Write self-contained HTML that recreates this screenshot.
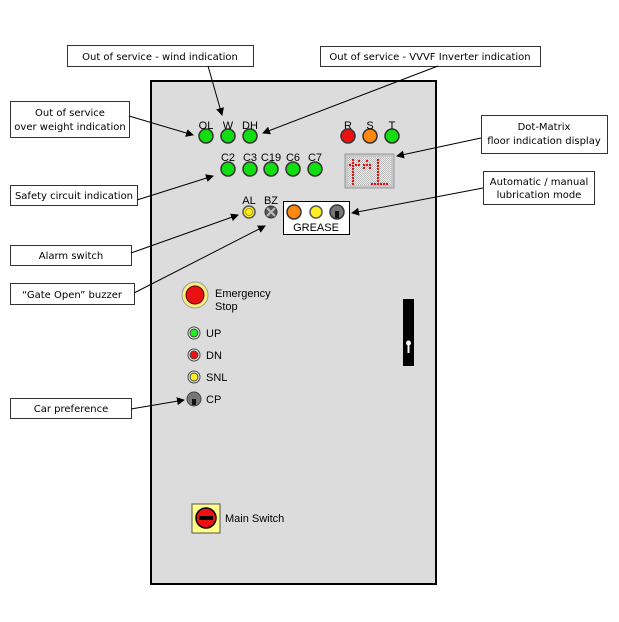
<!DOCTYPE html>
<html><head><meta charset="utf-8"><style>
html,body{margin:0;padding:0;background:#fff}
svg{display:block}
.lb{font-family:"DejaVu Sans","Liberation Sans",sans-serif;font-size:10px;fill:#000}
.pl{font-family:"Liberation Sans",sans-serif;font-size:11px;fill:#000}
</style></head><body>
<svg width="619" height="622" viewBox="0 0 619 622" xmlns="http://www.w3.org/2000/svg">
<defs>
<marker id="a" markerWidth="8" markerHeight="8" refX="7" refY="4" orient="auto" markerUnits="userSpaceOnUse">
<path d="M0,0 L8,4 L0,8 z" fill="#000"/></marker>
<pattern id="g" width="2" height="2" patternUnits="userSpaceOnUse"><rect width="2" height="2" fill="#eee"/><rect width="1" height="1" fill="#bbb"/><rect x="1" y="1" width="1" height="1" fill="#bbb"/></pattern>
</defs>
<rect x="151" y="81" width="285" height="503" fill="#dcdcdc" stroke="#000" stroke-width="2"/>

<!-- label boxes -->
<g fill="#fff" stroke="#333" stroke-width="1">
<rect x="67.5" y="45.5" width="186" height="21"/>
<rect x="320.5" y="46.5" width="220" height="20"/>
<rect x="10.5" y="101.5" width="119" height="36"/>
<rect x="481.5" y="115.5" width="126" height="38"/>
<rect x="483.5" y="171.5" width="111" height="33"/>
<rect x="10.5" y="185.5" width="127" height="20"/>
<rect x="10.5" y="245.5" width="121" height="20"/>
<rect x="10.5" y="283.5" width="124" height="21"/>
<rect x="10.5" y="398.5" width="121" height="20"/>
</g>
<g class="lb" text-anchor="middle">
<text x="160" y="60">Out of service  - wind indication</text>
<text x="430" y="60">Out of service  - VVVF  Inverter indication</text>
<text x="70" y="116">Out of service</text>
<text x="70" y="130">over weight indication</text>
<text x="544" y="130">Dot-Matrix</text>
<text x="544" y="144">floor indication display</text>
<text x="539" y="185">Automatic / manual</text>
<text x="539" y="198">lubrication mode</text>
<text x="74" y="199">Safety circuit indication</text>
<text x="71" y="259">Alarm switch</text>
<text x="72" y="298">“Gate Open” buzzer</text>
<text x="71" y="412">Car preference</text>
</g>
<g stroke="#000" stroke-width="1" marker-end="url(#a)">
<line x1="208" y1="66" x2="222" y2="115"/>
<line x1="438" y1="66" x2="263" y2="133"/>
<line x1="129" y1="116" x2="193" y2="135"/>
<line x1="481" y1="138" x2="397" y2="156"/>
<line x1="483" y1="188" x2="352" y2="213"/>
<line x1="137" y1="200" x2="213" y2="176"/>
<line x1="131" y1="253" x2="238" y2="215"/>
<line x1="134" y1="293" x2="265" y2="226"/>
<line x1="131" y1="409" x2="184" y2="400"/>
</g>

<!-- top lamps -->
<g stroke="#333" stroke-width="1.5">
<circle cx="206" cy="136" r="7" fill="#11dd11"/>
<circle cx="228" cy="136" r="7" fill="#11dd11"/>
<circle cx="250" cy="136" r="7" fill="#11dd11"/>
<circle cx="348" cy="136" r="7" fill="#ee1111"/>
<circle cx="370" cy="136" r="7" fill="#ff8811"/>
<circle cx="392" cy="136" r="7" fill="#11dd11"/>
<circle cx="228" cy="169" r="7" fill="#11dd11"/>
<circle cx="250" cy="169" r="7" fill="#11dd11"/>
<circle cx="271" cy="169" r="7" fill="#11dd11"/>
<circle cx="293" cy="169" r="7" fill="#11dd11"/>
<circle cx="315" cy="169" r="7" fill="#11dd11"/>
</g>
<g class="pl" text-anchor="middle">
<text x="206" y="129">OL</text><text x="228" y="129">W</text><text x="250" y="129">DH</text>
<text x="348" y="129">R</text><text x="370" y="129">S</text><text x="392" y="129">T</text>
<text x="228" y="161">C2</text><text x="250" y="161">C3</text><text x="271" y="161">C19</text><text x="293" y="161">C6</text><text x="315" y="161">C7</text>
<text x="249" y="204">AL</text><text x="271" y="204">BZ</text>
</g>

<!-- dot matrix -->
<rect x="345" y="154" width="49" height="34" fill="#c8c8c8" stroke="#999"/>
<rect x="348" y="157" width="43" height="28" fill="url(#g)"/>
<g fill="#e01010">
<circle cx="353" cy="160" r="1.2"/><circle cx="353" cy="163" r="1.2"/><circle cx="353" cy="166" r="1.2"/><circle cx="353" cy="169" r="1.2"/><circle cx="353" cy="172" r="1.2"/><circle cx="353" cy="175" r="1.2"/><circle cx="353" cy="178" r="1.2"/><circle cx="353" cy="181" r="1.2"/><circle cx="353" cy="184" r="1.2"/>
<circle cx="350" cy="165" r="1.2"/><circle cx="356" cy="165" r="1.2"/><circle cx="359" cy="165" r="1.2"/><circle cx="359" cy="161" r="1.2"/>
<circle cx="364" cy="165" r="1.2"/><circle cx="367" cy="165" r="1.2"/><circle cx="370" cy="165" r="1.2"/><circle cx="364" cy="168" r="1.2"/><circle cx="370" cy="168" r="1.2"/><circle cx="367" cy="161" r="1.2"/>
<circle cx="378" cy="160" r="1.2"/><circle cx="378" cy="163" r="1.2"/><circle cx="378" cy="166" r="1.2"/><circle cx="378" cy="169" r="1.2"/><circle cx="378" cy="172" r="1.2"/><circle cx="378" cy="175" r="1.2"/><circle cx="378" cy="178" r="1.2"/><circle cx="378" cy="181" r="1.2"/>
<circle cx="372" cy="184" r="1.2"/><circle cx="375" cy="184" r="1.2"/><circle cx="378" cy="184" r="1.2"/><circle cx="381" cy="184" r="1.2"/><circle cx="384" cy="184" r="1.2"/><circle cx="387" cy="184" r="1.2"/>
</g>

<!-- AL BZ grease -->
<circle cx="249" cy="212" r="6" fill="#ffee22" stroke="#555" stroke-width="1.5"/>
<circle cx="249" cy="212" r="3.5" fill="none" stroke="#998800" stroke-width="0.8"/>
<circle cx="271" cy="212" r="6" fill="#555" stroke="#333"/>
<path d="M267,208 L275,216 M275,208 L267,216" stroke="#bbb" stroke-width="2"/>
<rect x="283.5" y="201.5" width="66" height="33" fill="#fff" stroke="#000"/>
<circle cx="294" cy="212" r="7" fill="#ff8811" stroke="#333" stroke-width="1.5"/>
<circle cx="316" cy="212" r="6" fill="#ffee22" stroke="#555" stroke-width="1.5"/>
<circle cx="337" cy="212" r="7" fill="#777" stroke="#333" stroke-width="1.5"/>
<rect x="335" y="211" width="4" height="7" fill="#111"/>
<text class="pl" x="316" y="231" text-anchor="middle">GREASE</text>

<!-- emergency stop -->
<circle cx="195" cy="295" r="13" fill="#f5ee80" stroke="#999"/>
<circle cx="195" cy="295" r="9" fill="#e81010" stroke="#600" stroke-width="1"/>
<text class="pl" x="215" y="297">Emergency</text>
<text class="pl" x="215" y="310">Stop</text>

<g stroke="#444" stroke-width="1">
<circle cx="194" cy="333" r="6" fill="#eee"/><circle cx="194" cy="333" r="4" fill="#22ee22"/>
<circle cx="194" cy="355" r="6" fill="#eee"/><circle cx="194" cy="355" r="4" fill="#ee1111"/>
<circle cx="194" cy="377" r="6" fill="#eee"/><circle cx="194" cy="377" r="4" fill="#ffee22"/>
<circle cx="194" cy="399" r="7" fill="#777"/>
</g>
<rect x="192" y="399" width="4" height="6" fill="#111"/>
<g class="pl"><text x="206" y="337">UP</text><text x="206" y="359">DN</text><text x="206" y="381">SNL</text><text x="206" y="403">CP</text></g>

<!-- black bar -->
<rect x="403" y="299" width="11" height="67" fill="#000"/>
<circle cx="408.5" cy="343" r="2.5" fill="#fff"/>
<rect x="407.5" y="343" width="2" height="10" fill="#fff"/>

<!-- main switch -->
<rect x="192" y="504" width="28" height="29" fill="#ffff88" stroke="#555"/>
<circle cx="206" cy="518" r="10" fill="#ee1111" stroke="#000" stroke-width="1.5"/>
<rect x="199" y="516" width="14" height="4" fill="#000"/>
<text class="pl" x="225" y="522">Main Switch</text>
</svg>
</body></html>
